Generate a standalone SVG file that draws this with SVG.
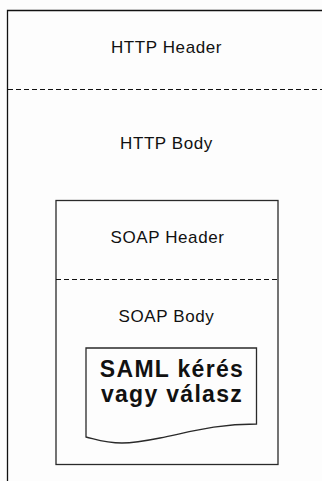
<svg xmlns="http://www.w3.org/2000/svg" width="322" height="481" viewBox="0 0 322 481">
<style>
.bg{fill:#fdfdfd}
.ln{fill:none;stroke:#111;stroke-width:1.3}
.box{fill:none;stroke:#2a2a2a;stroke-width:1.3}
.dash{fill:none;stroke:#111;stroke-width:1.2;stroke-dasharray:5,3}
.lbl{font-family:"Liberation Sans",Arial,sans-serif;font-size:17px;fill:#111;text-anchor:middle;letter-spacing:0.6px}
.saml{font-family:"Liberation Sans",Arial,sans-serif;font-size:23px;font-weight:bold;fill:#111;text-anchor:middle;letter-spacing:1.3px}
</style>
<rect class="bg" x="0" y="0" width="322" height="481"/>
<g id="http">
<path class="ln" d="M7.5,481 V10.5 H322"/>
<line class="dash" x1="8" y1="89.5" x2="322" y2="89.5"/>
<text class="lbl" x="166.5" y="53">HTTP Header</text>
<text class="lbl" x="166.5" y="149">HTTP Body</text>
</g>
<g id="soap">
<rect class="box" x="56" y="200.5" width="222" height="264"/>
<line class="dash" x1="56" y1="279.5" x2="278" y2="279.5"/>
<text class="lbl" x="167.5" y="243">SOAP Header</text>
<text class="lbl" x="166.5" y="322">SOAP Body</text>
</g>
<g id="saml">
<path class="box" d="M86,437 V348 H256.5 V424 C215,424 190,432 160,438 C140,442 130,443 122,443 C105,443 95,439 86,437 Z"/>
<text class="saml" x="172" y="377">SAML kérés</text>
<text class="saml" x="172" y="402">vagy válasz</text>
</g>
</svg>
